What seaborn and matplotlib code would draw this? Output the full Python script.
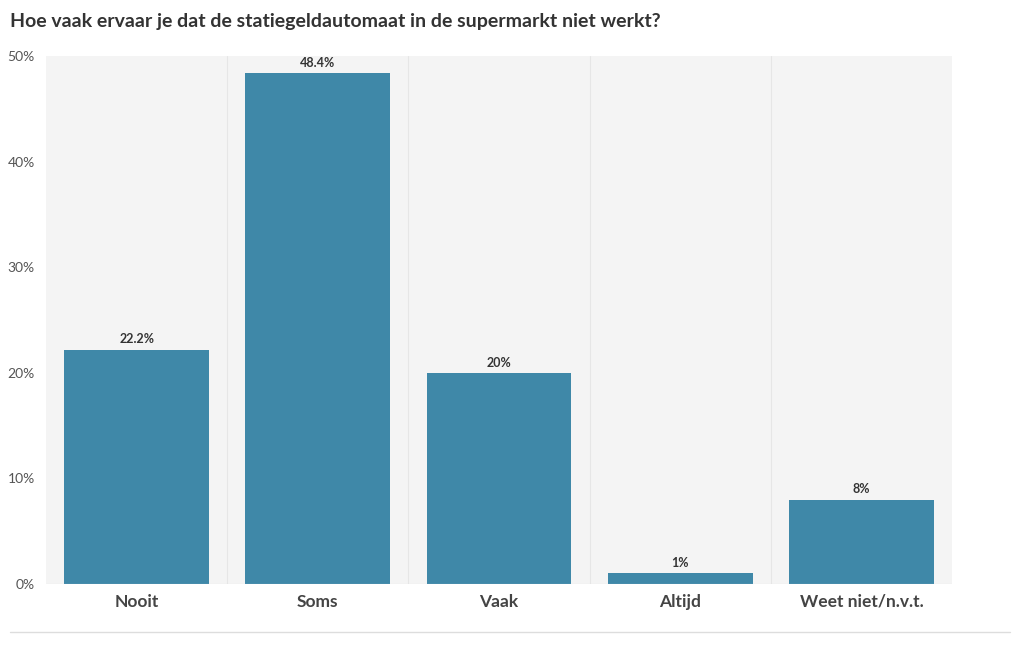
import pandas as pd
import seaborn as sns
import matplotlib.pyplot as plt
from matplotlib.lines import Line2D

categories = ["Nooit", "Soms", "Vaak", "Altijd", "Weet niet/n.v.t."]
values = [22.2, 48.4, 20, 1, 8]
labels = ["22.2%", "48.4%", "20%", "1%", "8%"]
title = "Hoe vaak ervaar je dat de statiegeldautomaat in de supermarkt niet werkt?"

df = pd.DataFrame({"cat": categories, "val": values})

sns.set_style("white")
plt.rcParams['font.family'] = ['Lato', 'DejaVu Sans']

fig = plt.figure(figsize=(10.2, 6.5), dpi=100)
ax = fig.add_axes([46 / 1020, 66 / 650, 906 / 1020, 528 / 650])
ax.set_facecolor("#f4f4f4")

sns.barplot(data=df, x="cat", y="val", color="#3f88a8", saturation=1,
            width=0.8, linewidth=0, ax=ax)

for i, (v, lab) in enumerate(zip(values, labels)):
    ax.text(i, v + 0.4, lab, ha="center", va="bottom", fontsize=9,
            fontweight="bold", color="#333333")

for x in [0.5, 1.5, 2.5, 3.5]:
    ax.axvline(x, color="#e6e6e6", lw=0.8, zorder=0)

ax.set_xlim(-0.5, 4.5)
ax.set_ylim(0, 50)
ax.set_yticks([0, 10, 20, 30, 40, 50])
ax.set_yticklabels([f"{t}%" for t in [0, 10, 20, 30, 40, 50]],
                   fontsize=10, color="#555555")
ax.tick_params(axis="y", length=0, pad=8)
ax.tick_params(axis="x", length=5, color="#e0e0e0", pad=2)
for t in ax.get_xticklabels():
    t.set_fontsize(12.5)
    t.set_fontweight("bold")
    t.set_color("#444444")
ax.set_xlabel("")
ax.set_ylabel("")
for s in ax.spines.values():
    s.set_visible(False)
ax.axhline(0, color="#e0e0e0", lw=0.8)

fig.text(10 / 1020, 1 - 21 / 650, title, fontsize=14, fontweight="bold",
         color="#333333", va="center", ha="left")
fig.add_artist(Line2D([10 / 1020, 1010 / 1020], [1 - 632 / 650, 1 - 632 / 650],
                      color="#dddddd", lw=1, transform=fig.transFigure))

fig.savefig("out.png", dpi=100)
